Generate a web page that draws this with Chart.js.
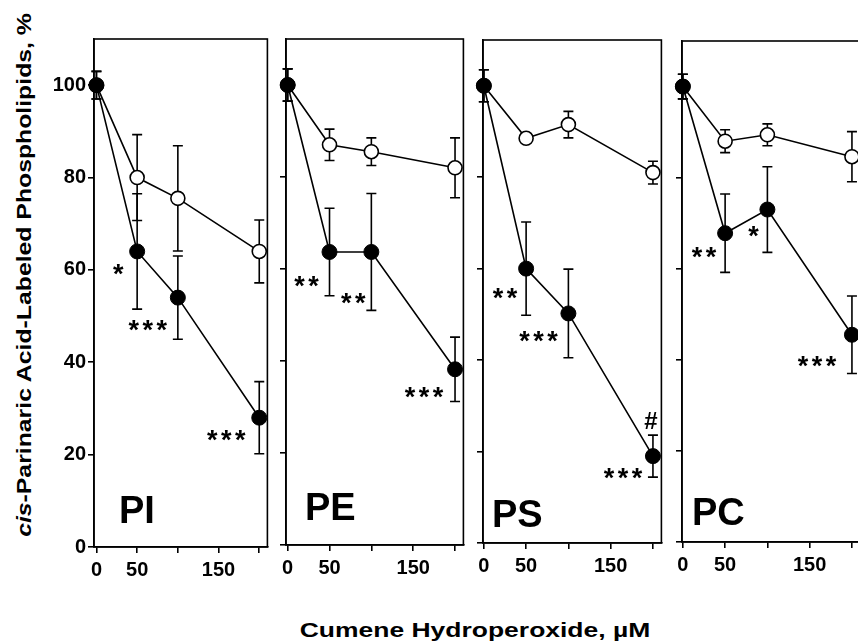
<!DOCTYPE html>
<html>
<head>
<meta charset="utf-8">
<script src="https://cdn.jsdelivr.net/npm/chart.js@4.4.1/dist/chart.umd.min.js"></script>
<style>
  html, body { margin: 0; padding: 0; background: #fff; overflow: hidden; }
  body { width: 858px; height: 643px; position: relative; font-family: "Liberation Sans", Arial, sans-serif; color: #000; }
  canvas { position: absolute; }
  .ytitle { position: absolute; left: 24px; top: 275px; font-size: 21px; font-weight: bold; white-space: nowrap;
            transform: translate(-50%, -50%) rotate(-90deg) scaleX(1.18); }
  .xtitle { position: absolute; left: 475px; top: 630px; font-size: 21px; font-weight: bold; white-space: nowrap;
            transform: translate(-50%, -50%) scaleX(1.26); }
</style>
</head>
<body>
<div class="ytitle"><i>cis</i>-Parinaric Acid-Labeled Phospholipids, %</div>
<div class="xtitle">Cumene Hydroperoxide, µM</div>
<canvas id="c0"></canvas>
<canvas id="c1"></canvas>
<canvas id="c2"></canvas>
<canvas id="c3"></canvas>
<script>
/* DATOS */
const doses = [0, 50, 100, 200];
const panelNames = ["PI", "PE", "PS", "PC"];
const xTicks = [0, 50, 100, 150, 200];
const xTickLabels = [0, 50, 150];
const yTicks = [0, 20, 40, 60, 80, 100];

const filledPI = [100, 64, 54, 28];
const filledErrPI = [3, 12.5, 9, 7.8];
const openPI = [100, 80, 75.5, 64];
const openErrPI = [3, 9.3, 11.4, 6.8];

const filledPE = [100, 63.7, 63.7, 38.2];
const filledErrPE = [3.5, 9.5, 12.7, 7];
const openPE = [100, 87, 85.5, 82];
const openErrPE = [3.5, 3.4, 3, 6.5];

const filledPS = [100, 60, 50.2, 19];
const filledErrPS = [3.5, 10.2, 9.7, 4.6];
const openPS = [100, 88.5, 91.5, 81];
const openErrPS = [3.5, 0, 2.9, 2.5];

const filledPC = [100, 67.8, 73, 45.5];
const filledErrPC = [2.7, 8.6, 9.4, 8.5];
const openPC = [100, 88, 89.4, 84.6];
const openErrPC = [2.7, 2.5, 2.4, 5.5];

const sigPI = ["", "*", "***", "***"];
const sigPE = ["", "**", "**", "***"];
const sigPS = ["", "**", "***", "***"];
const sigPC = ["", "**", "*", "***"];
const hashPS = ["", "", "", "#"];
const noHash = ["", "", "", ""];

const panels = [
  { filled: filledPI, filledErr: filledErrPI, open: openPI, openErr: openErrPI, sig: sigPI, hash: noHash },
  { filled: filledPE, filledErr: filledErrPE, open: openPE, openErr: openErrPE, sig: sigPE, hash: noHash },
  { filled: filledPS, filledErr: filledErrPS, open: openPS, openErr: openErrPS, sig: sigPS, hash: hashPS },
  { filled: filledPC, filledErr: filledErrPC, open: openPC, openErr: openErrPC, sig: sigPC, hash: noHash }
];

/* LAYOUT (pixeles) */
const FONT = "'Liberation Sans', Arial, sans-serif";
const padTop = 16, padRight = 8, xAxisH = 40;
const layout = [
  { left: 94, right: 268, top: 39, bottom: 547, xMin: -3, yW: 94, name: [25, -24],
    sig: [null, [-19, 17], [-30, 26], [-33, 16]], hash: null },
  { left: 286, right: 464, top: 39, bottom: 545, xMin: -2, yW: 10, name: [19, -25],
    sig: [null, [-23, 28], [-18, 45], [-31, 22]], hash: null },
  { left: 483, right: 662, top: 40, bottom: 543, xMin: -1, yW: 10, name: [9, -16],
    sig: [null, [-21, 23], [-30, 22], [-30, 16]], hash: [-2, -35] },
  { left: 682, right: 861, top: 41, bottom: 542, xMin: -1, yW: 10, name: [10, -17],
    sig: [null, [-21, 18], [-14, 20], [-35, 25]], hash: null }
];

/* PLUGIN: marco, barras de error, etiquetas */
const decorPlugin = {
  id: "decor",
  beforeDatasetsDraw(chart) {
    const { ctx, chartArea: a, scales: { x, y } } = chart;
    ctx.save();
    ctx.strokeStyle = "#000";
    ctx.lineWidth = 1.6;
    ctx.strokeRect(a.left, a.top, a.right - a.left, a.bottom - a.top);
    chart.data.datasets.forEach(ds => {
      ds.data.forEach((p, i) => {
        const e = ds.errors[i];
        if (!e) return;
        const px = x.getPixelForValue(p.x);
        const t = y.getPixelForValue(p.y + e);
        const b = y.getPixelForValue(p.y - e);
        ctx.beginPath();
        ctx.moveTo(px, t); ctx.lineTo(px, b);
        ctx.moveTo(px - 5, t); ctx.lineTo(px + 5, t);
        ctx.moveTo(px - 5, b); ctx.lineTo(px + 5, b);
        ctx.stroke();
      });
    });
    ctx.restore();
  },
  afterDatasetsDraw(chart, args, opts) {
    const { ctx, chartArea: a, scales: { x, y } } = chart;
    const L = opts.layout, P = opts.panel;
    ctx.save();
    ctx.fillStyle = "#000";
    // nombre del panel
    ctx.font = "bold 38px " + FONT;
    ctx.textAlign = "left";
    ctx.textBaseline = "alphabetic";
    ctx.fillText(opts.name, a.left + L.name[0], a.bottom + L.name[1]);
    // asteriscos
    ctx.font = "bold 27px " + FONT;
    ctx.textAlign = "center";
    P.sig.forEach((s, i) => {
      if (!s) return;
      const cx = x.getPixelForValue(doses[i]) + L.sig[i][0];
      const cy = y.getPixelForValue(P.filled[i]) + L.sig[i][1];
      for (let k = 0; k < s.length; k++) {
        ctx.fillText(s[k], cx + (k - (s.length - 1) / 2) * 14, cy + 15);
      }
    });
    // #
    ctx.font = "bold 24px " + FONT;
    P.hash.forEach((s, i) => {
      if (!s) return;
      const cx = x.getPixelForValue(doses[i]) + L.hash[0];
      const cy = y.getPixelForValue(P.filled[i]) + L.hash[1];
      ctx.fillText(s, cx, cy + 8);
    });
    ctx.restore();
  }
};

/* GRAFICOS */
panels.forEach((p, idx) => {
  const L = layout[idx];
  const canvas = document.getElementById("c" + idx);
  canvas.width = L.yW + (L.right - L.left) + padRight;
  canvas.height = padTop + (L.bottom - L.top) + xAxisH;
  canvas.style.left = (L.left - L.yW) + "px";
  canvas.style.top = (L.top - padTop) + "px";

  const axisGrid = { drawOnChartArea: false, drawTicks: true, tickLength: 6, color: "#000", lineWidth: 1.6 };
  const axisBorder = { display: true, color: "#000", width: 1.6 };
  const tickFont = { family: FONT, size: 20, weight: "bold" };

  new Chart(canvas, {
    type: "line",
    data: {
      datasets: [
        {
          data: doses.map((d, i) => ({ x: d, y: p.filled[i] })),
          errors: p.filledErr,
          borderColor: "#000", borderWidth: 1.6,
          pointRadius: 7.5, pointBackgroundColor: "#000", pointBorderColor: "#000", pointBorderWidth: 1,
          clip: false
        },
        {
          data: doses.map((d, i) => ({ x: d, y: p.open[i] })),
          errors: p.openErr,
          borderColor: "#000", borderWidth: 1.6,
          pointRadius: 7, pointBackgroundColor: "#fff", pointBorderColor: "#000", pointBorderWidth: 1.6,
          clip: false
        }
      ]
    },
    options: {
      responsive: false,
      animation: false,
      events: [],
      layout: { padding: { top: padTop, right: padRight, left: 0, bottom: 0 } },
      plugins: {
        legend: { display: false },
        tooltip: { enabled: false },
        decor: { name: panelNames[idx], layout: L, panel: p }
      },
      scales: {
        x: {
          type: "linear", min: L.xMin, max: 210,
          afterBuildTicks: ax => { ax.ticks = xTicks.map(v => ({ value: v })); },
          afterFit: ax => { ax.height = xAxisH; },
          grid: axisGrid, border: axisBorder,
          ticks: {
            autoSkip: false, maxRotation: 0, padding: 5, color: "#000", font: tickFont,
            callback: v => xTickLabels.includes(v) ? String(v) : ""
          }
        },
        y: {
          min: 0, max: 110,
          afterBuildTicks: ax => { ax.ticks = yTicks.map(v => ({ value: v })); },
          afterFit: ax => { ax.width = L.yW; },
          grid: axisGrid, border: axisBorder,
          ticks: {
            padding: 2, color: "#000", font: tickFont,
            callback: v => idx === 0 ? String(v) : ""
          }
        }
      }
    },
    plugins: [decorPlugin]
  });
});
</script>
</body>
</html>
